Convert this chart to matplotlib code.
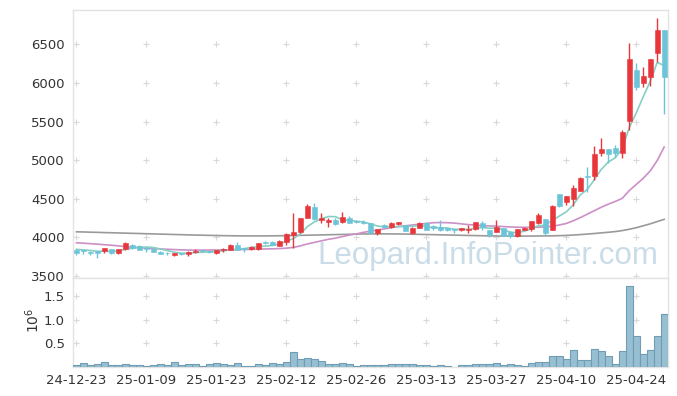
import matplotlib
matplotlib.use("Agg")
import matplotlib.pyplot as plt
import numpy as np

dates = (["24-12-23", "24-12-24", "24-12-26", "24-12-27", "24-12-30"] +
         ["25-01-%02d" % d for d in [2, 3, 6, 7, 8, 9, 10, 13, 14, 15, 16, 17, 20, 21, 22, 23, 24, 31]] +
         ["25-02-%02d" % d for d in [3, 4, 5, 6, 7, 10, 11, 12, 13, 14, 17, 18, 19, 20, 21, 24, 25, 26, 27, 28]] +
         ["25-03-%02d" % d for d in [4, 5, 6, 7, 10, 11, 12, 13, 14, 17, 18, 19, 20, 21, 24, 25, 26, 27, 28, 31]] +
         ["25-04-%02d" % d for d in [1, 2, 3, 4, 7, 8, 9, 10, 11, 14, 15, 16, 17, 18, 21, 22, 23, 24, 25, 28, 29, 30]])

open_ = [3840, 3831, 3814, 3823, 3818, 3849, 3793, 3853, 3896, 3884,
         3862, 3853, 3810, 3800, 3767, 3797, 3788, 3806, 3831, 3823,
         3801, 3831, 3840, 3900, 3862, 3853, 3845, 3935, 3935, 3892,
         3944, 4030, 4069, 4255, 4389, 4229, 4203, 4225, 4199, 4255,
         4216, 4203, 4181, 4060, 4160, 4130, 4177, 4160, 4060, 4125,
         4190, 4151, 4138, 4125, 4104, 4095, 4100, 4104, 4190, 4095,
         4069, 4117, 4073, 4017, 4095, 4104, 4181, 4237, 4095, 4557,
         4462, 4492, 4604, 4798, 4794, 5096, 5144, 5157, 5096, 5510,
         6167, 5994, 6072, 6383, 6685]
high = [3853, 3840, 3823, 3830, 3866, 3855, 3855, 3935, 3910, 3905,
        3875, 3858, 3818, 3806, 3797, 3800, 3820, 3849, 3840, 3828,
        3835, 3858, 3910, 3935, 3868, 3892, 3925, 3948, 3948, 3960,
        4060, 4311, 4251, 4432, 4440, 4311, 4246, 4255, 4328, 4277,
        4229, 4220, 4186, 4108, 4177, 4203, 4200, 4165, 4130, 4199,
        4195, 4160, 4220, 4130, 4108, 4120, 4160, 4199, 4212, 4100,
        4220, 4122, 4078, 4112, 4130, 4215, 4311, 4242, 4415, 4565,
        4540, 4677, 4781, 4915, 5187, 5290, 5150, 5196, 5390, 6512,
        6262, 6210, 6305, 6836, 6690]
low = [3767, 3790, 3771, 3728, 3797, 3788, 3788, 3840, 3855, 3836,
       3810, 3805, 3780, 3767, 3758, 3771, 3758, 3797, 3806, 3793,
       3780, 3810, 3835, 3835, 3806, 3836, 3840, 3915, 3900, 3885,
       3905, 3866, 4060, 4250, 4220, 4190, 4130, 4165, 4190, 4185,
       4190, 4173, 4055, 4030, 4117, 4125, 4160, 4080, 4040, 4120,
       4090, 4090, 4085, 4080, 4060, 4085, 4052, 4100, 4090, 4010,
       4065, 4015, 3996, 4010, 4090, 4080, 4175, 4030, 4090, 4390,
       4418, 4405, 4600, 4591, 4742, 5057, 4958, 5044, 5022, 5390,
       5908, 5942, 5960, 6275, 5597]
close = [3801, 3818, 3793, 3793, 3862, 3793, 3849, 3927, 3862, 3840,
         3849, 3810, 3784, 3793, 3793, 3788, 3814, 3827, 3818, 3806,
         3831, 3849, 3900, 3840, 3853, 3879, 3922, 3922, 3905, 3952,
         4039, 4069, 4246, 4406, 4233, 4250, 4225, 4173, 4259, 4190,
         4194, 4190, 4060, 4104, 4130, 4181, 4194, 4086, 4125, 4190,
         4095, 4125, 4095, 4095, 4095, 4117, 4108, 4194, 4130, 4030,
         4130, 4022, 4017, 4104, 4125, 4211, 4289, 4060, 4406, 4406,
         4535, 4634, 4764, 4777, 5079, 5144, 5079, 5096, 5364, 6305,
         5951, 6089, 6305, 6685, 6080]

ma5 = [3845, 3838, 3830, 3820, 3822, 3818, 3825, 3845, 3862, 3870,
       3875, 3868, 3850, 3828, 3808, 3795, 3795, 3803, 3808, 3812,
       3818, 3826, 3840, 3845, 3855, 3870, 3880, 3888, 3895, 3915,
       3950, 3985, 4045, 4140, 4200, 4240, 4270, 4268, 4228, 4220,
       4208, 4200, 4175, 4148, 4135, 4133, 4140, 4140, 4145, 4155,
       4140, 4125, 4125, 4120, 4105, 4105, 4102, 4120, 4128, 4118,
       4120, 4100, 4068, 4060, 4080, 4110, 4150, 4158, 4220, 4275,
       4330, 4420, 4550, 4620, 4745, 4880, 4975, 5030, 5150, 5420,
       5610, 5820, 6020, 6265, 6225]
ma20 = [3930, 3925, 3918, 3912, 3905, 3898, 3890, 3880, 3872, 3866,
        3860, 3855, 3850, 3846, 3842, 3838, 3836, 3835, 3835, 3836,
        3837, 3838, 3840, 3842, 3843, 3845, 3848, 3850, 3852, 3855,
        3860, 3870, 3890, 3915, 3935, 3955, 3975, 3990, 4010, 4030,
        4045, 4065, 4080, 4095, 4110, 4125, 4140, 4150, 4160, 4170,
        4180, 4190, 4192, 4190, 4185, 4175, 4165, 4160, 4152, 4148,
        4145, 4140, 4135, 4132, 4130, 4130, 4132, 4135, 4145, 4160,
        4180, 4215, 4255, 4300, 4345, 4390, 4430, 4465, 4505, 4605,
        4685, 4765, 4860, 4995, 5170]
ma60 = [4072, 4070, 4067, 4065, 4062, 4060, 4057, 4055, 4052, 4050,
        4047, 4045, 4042, 4040, 4037, 4035, 4032, 4030, 4028, 4026,
        4024, 4022, 4021, 4020, 4019, 4019, 4019, 4019, 4020, 4021,
        4022, 4024, 4026, 4028, 4030, 4032, 4034, 4036, 4038, 4040,
        4042, 4044, 4045, 4045, 4045, 4045, 4044, 4043, 4041, 4039,
        4037, 4035, 4033, 4031, 4029, 4027, 4025, 4023, 4021, 4019,
        4018, 4017, 4017, 4017, 4017, 4017, 4018, 4019, 4020, 4022,
        4025, 4030, 4036, 4043, 4050, 4058, 4066, 4075, 4088, 4105,
        4125, 4150, 4175, 4205, 4233]

volume = [0.050, 0.077, 0.035, 0.056, 0.098, 0.035, 0.035, 0.056, 0.035, 0.035,
          0.014, 0.035, 0.056, 0.035, 0.098, 0.035, 0.056, 0.056, 0.014, 0.056,
          0.077, 0.056, 0.035, 0.077, 0.020, 0.020, 0.056, 0.035, 0.077, 0.056,
          0.105, 0.315, 0.168, 0.189, 0.168, 0.126, 0.063, 0.063, 0.084, 0.063,
          0.020, 0.042, 0.042, 0.042, 0.042, 0.063, 0.063, 0.063, 0.063, 0.042,
          0.042, 0.020, 0.035, 0.020, 0.010, 0.035, 0.035, 0.056, 0.056, 0.056,
          0.077, 0.035, 0.056, 0.035, 0.014, 0.077, 0.098, 0.098, 0.224, 0.224,
          0.160, 0.350, 0.140, 0.140, 0.390, 0.330, 0.224, 0.056, 0.330, 1.700,
          0.660, 0.266, 0.350, 0.643, 1.126]

price_ticks = [3500, 4000, 4500, 5000, 5500, 6000, 6500]
vol_ticks = [0.5, 1.0, 1.5]
tick_step = 10

UP = "#e8363b"
DOWN = "#6cc4d9"
GRID = "#d9d9d9"
SPINE = "#e3e3e3"

plt.rcParams["font.family"] = ["DejaVu Sans"]
fig = plt.figure(figsize=(6.77, 3.96), dpi=100)
W, H = 677, 396
left, right = 73 / W, 667.7 / W
ax = fig.add_axes([left, 1 - 278 / H, right - left, (278 - 10) / H])
axv = fig.add_axes([left, 1 - 367.1 / H, right - left, (367.1 - 278) / H], sharex=ax)

x = np.arange(len(close))
o = np.array(open_); c = np.array(close); h = np.array(high); l = np.array(low)
up = c >= o
col = np.where(up, UP, DOWN)

# watermark
ax.text(0.698, 0.052, "Leopard.InfoPointer.com", transform=ax.transAxes,
        ha="center", va="baseline", fontsize=22.5, color="#c9dce8",
        family="Liberation Sans", zorder=1)

# MA lines
ax.plot(x, ma60, color="#9a9a9a", lw=1.2, zorder=2)
ax.plot(x, ma20, color="#cc8fc6", lw=1.2, zorder=2)
ax.plot(x, ma5, color="#86cfc3", lw=1.2, zorder=2)

# candles
ax.vlines(x, l, h, colors=col, lw=1.0, zorder=3)
body_bottom = np.minimum(o, c)
body_h = np.maximum(np.abs(c - o), 8)
ax.bar(x, body_h, bottom=body_bottom, width=0.72, color=col, edgecolor=col,
       linewidth=0.4, zorder=4)

# volume bars
axv.bar(x, volume, width=1.0, color="#97bfd1", edgecolor="#6f9db6", linewidth=0.8, zorder=3)

xt = list(range(0, len(dates), tick_step))
ax.set_xlim(-0.5, len(dates) - 0.5)
ax.set_ylim(3474, 6944)
axv.set_ylim(0, 1.872)

ax.set_yticks(price_ticks)
ax.set_yticklabels([str(t) for t in price_ticks])
axv.set_yticks(vol_ticks)
axv.set_yticklabels(["%.1f" % t for t in vol_ticks])
axv.set_xticks(xt)
axv.set_xticklabels([dates[i] for i in xt])
ax.tick_params(axis="x", labelbottom=False, length=0)

for a in (ax, axv):
    a.tick_params(length=0, labelsize=9.5, colors="#333333", pad=6)
    for s in a.spines.values():
        s.set_color(SPINE)
        s.set_linewidth(1.0)
    a.set_facecolor("white")

axv.tick_params(axis="x", pad=5)

# grid crosses
gx, gy = np.meshgrid(xt, price_ticks)
ax.plot(gx.ravel(), gy.ravel(), "+", color=GRID, ms=4, mew=0.8, zorder=0, clip_on=False)
gx2, gy2 = np.meshgrid(xt, vol_ticks)
axv.plot(gx2.ravel(), gy2.ravel(), "+", color=GRID, ms=4, mew=0.8, zorder=0)

fig.text(33 / W, 1 - 320 / H, "$10^{6}$", rotation=90, ha="center", va="center",
         fontsize=10, color="#333333")

fig.savefig("out.png", dpi=100)
